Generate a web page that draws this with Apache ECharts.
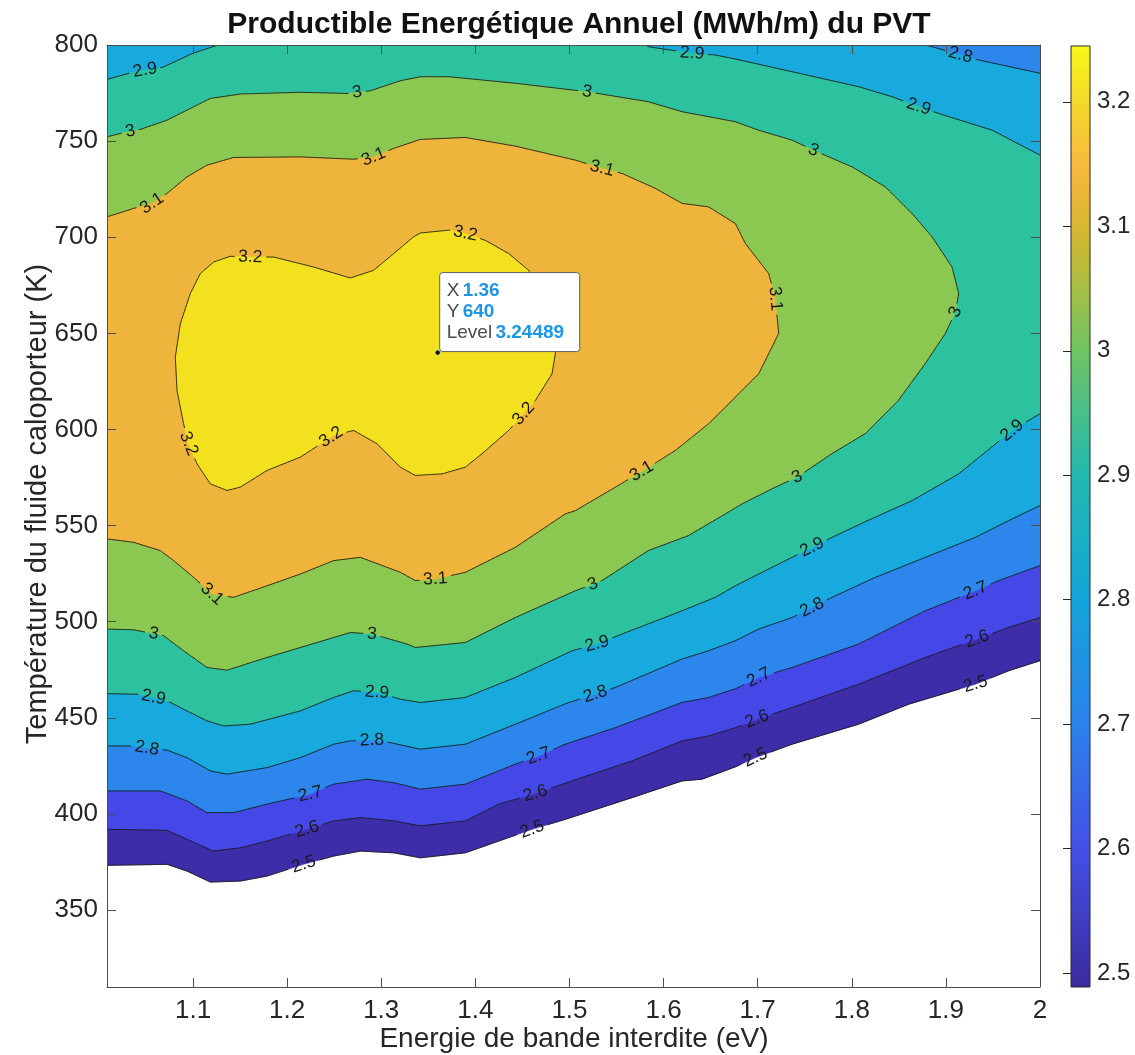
<!DOCTYPE html>
<html><head><meta charset="utf-8">
<script src="https://cdn.jsdelivr.net/npm/echarts@6/dist/echarts.min.js"></script>
<style>html,body{margin:0;padding:0;background:#fff}#c{width:1135px;height:1055px}</style>
</head><body><div id="c"></div>
<script>
// ---------------- data ----------------
const LEVELS = [2.5, 2.6, 2.7, 2.8, 2.9, 3.0, 3.1, 3.2];
const X_RANGE = [1.0086, 2.0];
const Y_RANGE = [310, 800];
const Z_RANGE = [2.4888, 3.24489];
const xTicks = [1.1, 1.2, 1.3, 1.4, 1.5, 1.6, 1.7, 1.8, 1.9, 2.0];
const yTicks = [350, 400, 450, 500, 550, 600, 650, 700, 750, 800];
const cbTicks = [2.5, 2.6, 2.7, 2.8, 2.9, 3.0, 3.1, 3.2];
const TIP_POINT = [1.36, 640];
const TIP_LEVEL = 3.24489;

// contour lines: each level -> list of polylines [x (eV), y (K)]
const contour_2_5 = [
 [[1.0086,373.3],[1.0724,373.8],[1.0936,370.3],[1.1184,364.6],[1.1503,365.1],[1.1786,367.7],[1.2175,373.8],[1.2494,378.1],[1.2778,380.7],[1.3132,379.8],[1.3416,377.2],[1.3894,379.8],[1.4248,385.9],[1.4603,392.0],[1.4956,397.2],[1.5665,408.5],[1.6197,417.2],[1.6409,418.1],[1.6763,424.5],[1.6976,429.3],[1.7366,436.3],[1.8073,446.7],[1.8605,457.1],[1.9314,467.5],[1.9667,474.5],[2.0,479.7]]
];
const contour_2_6 = [
 [[1.0086,392.0],[1.0724,391.5],[1.0936,386.8],[1.1219,380.7],[1.1503,382.4],[1.1786,385.9],[1.2211,392.0],[1.2494,396.4],[1.2778,398.1],[1.3132,396.4],[1.3416,393.8],[1.3894,396.4],[1.4248,405.1],[1.4638,410.6],[1.5134,419.0],[1.5665,427.6],[1.6197,438.0],[1.6479,440.6],[1.6763,444.9],[1.6994,449.3],[1.7366,455.4],[1.8073,467.5],[1.8782,481.4],[1.9332,491.0],[1.9667,497.0],[2.0,502.2]]
];
const contour_2_7 = [
 [[1.0086,412.0],[1.0653,412.0],[1.0936,406.8],[1.1149,400.7],[1.1431,400.7],[1.1786,405.1],[1.2247,410.3],[1.2494,415.5],[1.2849,418.1],[1.3132,416.3],[1.3416,412.9],[1.3894,415.5],[1.4425,425.9],[1.4673,430.2],[1.4956,436.3],[1.5488,444.9],[1.6197,458.0],[1.6479,460.6],[1.6763,465.1],[1.7011,471.0],[1.7366,476.2],[1.8073,488.4],[1.8782,505.7],[1.9314,516.1],[1.9561,521.4],[2.0,529.2]]
];
const contour_2_8 = [
 [[1.0086,435.4],[1.0369,435.4],[1.0511,434.2],[1.0724,433.2],[1.0936,429.3],[1.1184,422.4],[1.1361,420.7],[1.1786,424.1],[1.2140,429.3],[1.2494,436.3],[1.2672,438.0],[1.2902,438.4],[1.3097,437.1],[1.3416,433.7],[1.3894,436.3],[1.4425,446.7],[1.4992,458.0],[1.5275,462.3],[1.5488,465.8],[1.6197,480.6],[1.6479,484.9],[1.6763,490.1],[1.7011,496.2],[1.7366,502.2],[1.7578,507.4],[1.7791,512.7],[1.8251,523.1],[1.8782,533.5],[1.9314,543.9],[1.9667,552.6],[2.0,560.4]],
 [[2.0,785.3],[1.9349,792.2],[1.9154,794.8],[1.8853,799.1],[1.8782,800]]
];
const contour_2_9 = [
 [[1.0086,462.6],[1.0405,462.3],[1.0581,460.6],[1.0759,458.0],[1.0936,453.6],[1.1149,448.4],[1.1325,445.8],[1.1609,446.7],[1.2140,453.6],[1.2494,460.6],[1.2707,464.1],[1.2955,463.2],[1.3203,459.7],[1.3416,458.0],[1.3894,460.6],[1.4425,471.0],[1.5028,484.9],[1.5293,488.4],[1.5559,493.6],[1.6197,505.7],[1.6550,512.7],[1.6763,518.7],[1.7011,524.8],[1.7578,538.7],[1.7791,543.9],[1.8145,552.1],[1.8641,563.0],[1.9136,576.9],[1.9703,599.5],[2.0,608.2]],
 [[2.0,742.7],[1.9491,755.7],[1.8923,764.4],[1.8711,767.9],[1.8428,773.1],[1.8073,778.3],[1.7366,786.1],[1.6763,792.7],[1.6550,794.8],[1.6303,795.7],[1.5840,799.1],[1.5807,800]],
 [[1.1270,800],[1.1237,799.5],[1.1003,795.8],[1.0684,788.5],[1.0366,785.9],[1.0086,782.1]]
];
const contour_3_0 = [
 [[1.0086,496.2],[1.0369,495.8],[1.0688,492.7],[1.0900,484.9],[1.1149,476.2],[1.1361,474.8],[1.1786,481.4],[1.2318,489.2],[1.2672,494.4],[1.2902,493.6],[1.3274,488.4],[1.3362,486.6],[1.3894,489.2],[1.4425,502.2],[1.5063,516.1],[1.5346,521.4],[1.5838,537.0],[1.6264,544.8],[1.6657,556.1],[1.6834,561.3],[1.7188,570.0],[1.7419,575.2],[1.7791,587.5],[1.8145,597.9],[1.8495,615.1],[1.8782,634.4],[1.8995,650.0],[1.9101,661.1],[1.9136,670.7],[1.9066,684.5],[1.8853,700.2],[1.8641,712.3],[1.8357,726.2],[1.8003,736.6],[1.7592,745.3],[1.7366,750.5],[1.7008,755.7],[1.6763,760.1],[1.6197,765.3],[1.5838,770.5],[1.5187,775.7],[1.4425,780.1],[1.3716,783.5],[1.3416,783.5],[1.3203,781.4],[1.2884,776.2],[1.2637,774.8],[1.2140,775.4],[1.1503,774.5],[1.1184,772.2],[1.0936,766.1],[1.0724,760.9],[1.0440,756.1],[1.0227,754.0],[1.0086,752.2]]
];
const contour_3_1 = [
 [[1.0086,543.1],[1.0369,541.3],[1.0653,537.0],[1.0794,531.8],[1.1006,523.1],[1.1202,514.4],[1.1431,512.7],[1.1786,518.7],[1.2140,524.8],[1.2494,531.8],[1.2778,533.5],[1.3203,525.7],[1.3362,521.4],[1.3575,522.2],[1.3894,525.7],[1.4425,538.7],[1.4956,556.1],[1.5063,557.8],[1.5488,570.0],[1.5842,580.4],[1.6125,589.1],[1.6479,603.0],[1.6657,611.6],[1.6798,618.6],[1.7011,629.0],[1.7223,649.9],[1.7188,668.0],[1.7117,681.1],[1.6870,696.7],[1.6763,707.1],[1.6479,715.8],[1.6197,717.6],[1.5913,725.4],[1.5559,733.2],[1.5346,735.8],[1.5063,740.1],[1.4425,747.4],[1.3894,751.9],[1.3416,750.9],[1.3132,746.2],[1.2919,741.8],[1.2707,740.6],[1.2140,741.8],[1.1431,741.5],[1.1149,737.5],[1.0936,731.4],[1.0724,722.8],[1.0564,717.6],[1.0369,715.0],[1.0086,710.6]]
];
const contour_3_2 = [
 [[1.1078,681.1],[1.1219,687.1],[1.1396,690.1],[1.1609,689.7],[1.1857,689.7],[1.2282,684.5],[1.2672,678.8],[1.2919,682.8],[1.3132,691.5],[1.3344,700.2],[1.3416,702.2],[1.3716,703.7],[1.3894,701.9],[1.4106,698.4],[1.4354,691.5],[1.4567,682.8],[1.4691,672.4],[1.4797,659.4],[1.4850,646.4],[1.4850,639.4],[1.4815,629.0],[1.4638,615.1],[1.4513,608.2],[1.4354,599.5],[1.4071,587.4],[1.3894,580.4],[1.3646,576.9],[1.3362,576.1],[1.3203,580.4],[1.2955,592.6],[1.2707,599.5],[1.2494,596.9],[1.2140,585.6],[1.1786,578.7],[1.1503,570.0],[1.1361,568.3],[1.1184,571.7],[1.1043,582.1],[1.0953,592.6],[1.0900,603.0],[1.0830,620.3],[1.0812,637.7],[1.0865,655.0],[1.0971,670.7],[1.1078,681.1]]
];
const CONTOURS = [contour_2_5, contour_2_6, contour_2_7, contour_2_8, contour_2_9, contour_3_0, contour_3_1, contour_3_2];

// inline label positions [x, y] per level
const labels_2_5 = [[1.2175,373.8],[1.4603,392.0],[1.6976,429.3],[1.9314,467.5]];
const labels_2_6 = [[1.2211,392.0],[1.4638,410.6],[1.6994,449.3],[1.9332,491.0]];
const labels_2_7 = [[1.2247,410.3],[1.4673,430.2],[1.7011,471.0],[1.9314,516.1]];
const labels_2_8 = [[1.9154,794.8],[1.0511,434.2],[1.2902,438.4],[1.5275,462.3],[1.7578,507.4]];
const labels_2_9 = [[1.0493,785.9],[1.6303,795.7],[1.8711,767.9],[1.0581,460.6],[1.2955,463.2],[1.5293,488.4],[1.7578,538.7],[1.9703,599.5]];
const labels_3_0 = [[1.0334,754.8],[1.2743,774.8],[1.5187,775.7],[1.7592,745.3],[1.9101,661.1],[1.7419,575.2],[1.5254,518.7],[1.2902,493.6],[1.0581,493.6]];
const labels_3_1 = [[1.0564,717.6],[1.2919,741.8],[1.5346,735.8],[1.7188,668.0],[1.5771,577.8],[1.3575,522.2],[1.1202,514.4]];
const labels_3_2 = [[1.1609,689.7],[1.3894,701.9],[1.4513,608.2],[1.2491,594.3],[1.0953,592.6]];
const LABELS = [labels_2_5, labels_2_6, labels_2_7, labels_2_8, labels_2_9, labels_3_0, labels_3_1, labels_3_2];

// ---------------- styles ----------------
const BAND_COLORS = ['#3e2da9', '#4548e6', '#2c86ec', '#18a9dd', '#2cc2a0', '#8bc852', '#efb43b', '#f3e01f'];
const CB_STOPS = [
  [0.00, '#3b2a9e'], [0.147, '#4450e6'], [0.279, '#2b82ec'], [0.411, '#14a4da'],
  [0.544, '#22b9b0'], [0.676, '#6ec462'], [0.76, '#b6bd3c'], [0.808, '#d9b632'],
  [0.87, '#f8b83e'], [0.94, '#f4d82a'], [1.0, '#f8f81a']
];
const FONT = 'Liberation Sans';
const TXT = '#262626';
const AX = '#4d4d4d';

// ---------------- helpers ----------------
function perim(p) {
  const [x, y] = p, [X0, X1] = X_RANGE, [Y0, Y1] = Y_RANGE;
  const d = [(y - Y0) / (Y1 - Y0), (X1 - x) / (X1 - X0), (Y1 - y) / (Y1 - Y0), (x - X0) / (X1 - X0)];
  let e = 0; for (let i = 1; i < 4; i++) if (d[i] < d[e]) e = i;
  if (e === 0) return (x - X0) / (X1 - X0);
  if (e === 1) return 1 + (y - Y0) / (Y1 - Y0);
  if (e === 2) return 2 + (X1 - x) / (X1 - X0);
  return 3 + (Y1 - y) / (Y1 - Y0);
}
function onBoundary(p) {
  const [x, y] = p, [X0, X1] = X_RANGE, [Y0, Y1] = Y_RANGE;
  return Math.min((y - Y0) / (Y1 - Y0), (X1 - x) / (X1 - X0), (Y1 - y) / (Y1 - Y0), (x - X0) / (X1 - X0)) < 0.003;
}
function corner(c) {
  const [X0, X1] = X_RANGE, [Y0, Y1] = Y_RANGE;
  return [[X0, Y0], [X1, Y0], [X1, Y1], [X0, Y1]][((c % 4) + 4) % 4];
}
function buildRings(segs) {
  const rings = [];
  const open = [];
  segs.forEach(s => { if (!onBoundary(s[0])) rings.push(s.slice()); else open.push(s); });
  const used = new Set();
  for (let i = 0; i < open.length; i++) {
    if (used.has(i)) continue;
    const ring = []; let cur = i; let guard = 0;
    while (guard++ < 20) {
      used.add(cur);
      ring.push(...open[cur]);
      const tEnd = perim(open[cur][open[cur].length - 1]);
      let best = -1, bd = Infinity;
      open.forEach((s, j) => {
        if (used.has(j) && j !== i) return;
        const d = ((perim(s[0]) - tEnd) % 4 + 4) % 4;
        if (d < bd) { bd = d; best = j; }
      });
      for (let c = Math.floor(tEnd) + 1; c < tEnd + bd; c++) ring.push(corner(c));
      if (best === i) break;
      cur = best;
    }
    rings.push(ring);
  }
  return rings;
}
function fmtLevel(L) { return String(Math.round(L * 10) / 10); }

function renderContours(params, api) {
  const children = [];
  const toPx = p => api.coord(p);
  // filled bands, lowest first
  LEVELS.forEach((L, i) => {
    buildRings(CONTOURS[i]).forEach(r => {
      children.push({ type: 'polygon', silent: true, shape: { points: r.map(toPx) },
        style: { fill: BAND_COLORS[i], stroke: BAND_COLORS[i], lineWidth: 0.6 } });
    });
  });
  // lines with label gaps + labels
  const fs = 17.5;
  LEVELS.forEach((L, i) => {
    const txt = fmtLevel(L);
    const w = txt.split('').reduce((a, ch) => a + (ch === '.' ? 0.278 : 0.556), 0) * fs;
    const pxSegs = CONTOURS[i].map(s => s.map(toPx));
    const labs = LABELS[i].map(p => {
      const c = toPx(p);
      let best = null, bd = Infinity;
      pxSegs.forEach(ps => {
        for (let k = 0; k < ps.length - 1; k++) {
          const a = ps[k], b = ps[k + 1];
          const dx = b[0] - a[0], dy = b[1] - a[1];
          const len2 = dx * dx + dy * dy || 1;
          let t = ((c[0] - a[0]) * dx + (c[1] - a[1]) * dy) / len2;
          t = Math.max(0, Math.min(1, t));
          const q = [a[0] + t * dx, a[1] + t * dy];
          const d = Math.hypot(q[0] - c[0], q[1] - c[1]);
          if (d < bd) { bd = d; best = { x: q[0], y: q[1], dx, dy }; }
        }
      });
      let ang = Math.atan2(-best.dy, best.dx);
      if (ang >= Math.PI / 2) ang -= Math.PI;
      if (ang < -Math.PI / 2) ang += Math.PI;
      return { x: best.x, y: best.y, ang, r: w / 2 + 3 };
    });
    pxSegs.forEach(ps => {
      let cur = [];
      const flush = () => { if (cur.length > 1) children.push({ type: 'polyline', silent: true, shape: { points: cur }, style: { stroke: '#141414', lineWidth: 0.9, fill: null } }); cur = []; };
      for (let k = 0; k < ps.length - 1; k++) {
        const a = ps[k], b = ps[k + 1];
        const n = Math.max(1, Math.ceil(Math.hypot(b[0] - a[0], b[1] - a[1]) / 1.5));
        for (let s = 0; s <= n; s++) {
          if (s === n && k < ps.length - 2) continue;
          const q = [a[0] + (b[0] - a[0]) * s / n, a[1] + (b[1] - a[1]) * s / n];
          const gap = labs.some(l => Math.hypot(q[0] - l.x, q[1] - l.y) < l.r);
          if (gap) flush(); else cur.push(q);
        }
      }
      flush();
    });
    labs.forEach(l => children.push({ type: 'text', silent: true, x: l.x, y: l.y, rotation: l.ang,
      style: { text: txt, fill: '#1a1a1a', fontSize: fs, fontFamily: FONT, align: 'center', verticalAlign: 'middle' } }));
  });
  // data tip
  const pt = toPx(TIP_POINT);
  const bx = pt[0] + 2, by = pt[1] - 80;
  children.push({ type: 'rect', silent: true, shape: { x: bx, y: by, width: 140, height: 79, r: 3 },
    style: { fill: '#ffffff', stroke: '#5e5e5e', lineWidth: 1 } });
  children.push({ type: 'circle', silent: true, shape: { cx: pt[0], cy: pt[1], r: 2.6 }, style: { fill: '#111', stroke: '#fff', lineWidth: 0.6 } });
  const rich = {
    n: { fill: '#4a4a4a', fontSize: 19, fontFamily: FONT },
    v: { fill: '#1e96e6', fontSize: 19, fontFamily: FONT, fontWeight: 'bold' }
  };
  [['X', String(TIP_POINT[0])], ['Y', String(TIP_POINT[1])], ['Level', String(TIP_LEVEL)]].forEach((row, k) => {
    children.push({ type: 'text', silent: true, x: bx + 7, y: by + 18 + k * 21,
      style: { text: '{n|' + row[0] + '} {v|' + row[1] + '}', rich, align: 'left', verticalAlign: 'middle' } });
  });
  return { type: 'group', children };
}

function renderColorbar(params, api) {
  const p0 = api.coord([0, Z_RANGE[0]]), p1 = api.coord([1, Z_RANGE[1]]);
  return { type: 'rect', silent: true,
    shape: { x: p0[0], y: p1[1], width: p1[0] - p0[0], height: p0[1] - p1[1] },
    style: { fill: new echarts.graphic.LinearGradient(0, 1, 0, 0, CB_STOPS.map(s => ({ offset: s[0], color: s[1] }))),
      stroke: '#2a2a2a', lineWidth: 1 } };
}

const chart = echarts.init(document.getElementById('c'), null, { renderer: 'canvas' });
const tickStyle = { show: true, inside: true, length: 9, lineStyle: { color: AX, width: 1 } };
const lineStyle = { show: true, lineStyle: { color: AX, width: 1 } };
chart.setOption({
  animation: false,
  backgroundColor: '#fff',
  title: { text: 'Productible Energétique Annuel (MWh/m) du PVT', left: 574, top: 5, textAlign: 'center',
    textStyle: { fontFamily: FONT, fontSize: 30, fontWeight: 'bold', color: '#111' } },
  graphic: [
    { type: 'text', x: 38, y: 504, rotation: Math.PI / 2, silent: true,
      style: { text: 'Température du fluide caloporteur (K)', fontFamily: FONT, fontSize: 29, fill: TXT,
        align: 'center', verticalAlign: 'middle' } },
    { type: 'text', x: 574, y: 1039, silent: true,
      style: { text: 'Energie de bande interdite (eV)', fontFamily: FONT, fontSize: 28, fill: TXT,
        align: 'center', verticalAlign: 'middle' } }
  ],
  grid: [
    { left: 107, right: 95, top: 45, bottom: 68, outerBoundsMode: 'none', containLabel: false },
    { left: 1071, width: 19, top: 46, height: 941, outerBoundsMode: 'none', containLabel: false }
  ],
  xAxis: [
    { type: 'value', gridIndex: 0, min: X_RANGE[0], max: X_RANGE[1], position: 'bottom', z: 10,
      axisLine: lineStyle, axisTick: Object.assign({ customValues: xTicks }, tickStyle),
      axisLabel: { customValues: xTicks, fontFamily: FONT, fontSize: 26, color: TXT, margin: 11, formatter: v => String(+v.toFixed(1)) },
      splitLine: { show: false } },
    { type: 'value', gridIndex: 0, min: X_RANGE[0], max: X_RANGE[1], position: 'top', z: 10,
      axisLine: lineStyle, axisTick: Object.assign({ customValues: xTicks }, tickStyle),
      axisLabel: { show: false }, splitLine: { show: false } },
    { type: 'value', gridIndex: 1, min: 0, max: 1, show: false }
  ],
  yAxis: [
    { type: 'value', gridIndex: 0, min: Y_RANGE[0], max: Y_RANGE[1], position: 'left', z: 10,
      axisLine: lineStyle, axisTick: Object.assign({ customValues: yTicks }, tickStyle),
      axisLabel: { customValues: yTicks, fontFamily: FONT, fontSize: 26, color: TXT, margin: 9 },
      splitLine: { show: false } },
    { type: 'value', gridIndex: 0, min: Y_RANGE[0], max: Y_RANGE[1], position: 'right', z: 10,
      axisLine: lineStyle, axisTick: Object.assign({ customValues: yTicks }, tickStyle),
      axisLabel: { show: false }, splitLine: { show: false } },
    { type: 'value', gridIndex: 1, min: Z_RANGE[0], max: Z_RANGE[1], position: 'right', z: 10,
      axisLine: { show: false },
      axisTick: { show: true, inside: true, length: 8, customValues: cbTicks, lineStyle: { color: '#262626', width: 1 } },
      axisLabel: { customValues: cbTicks, fontFamily: FONT, fontSize: 24, color: TXT, margin: 7, formatter: v => String(+v.toFixed(1)) },
      splitLine: { show: false } }
  ],
  series: [
    { type: 'custom', coordinateSystem: 'cartesian2d', xAxisIndex: 0, yAxisIndex: 0, clip: true, silent: true,
      renderItem: renderContours, data: [[X_RANGE[0], Y_RANGE[0]]] },
    { type: 'custom', coordinateSystem: 'cartesian2d', xAxisIndex: 2, yAxisIndex: 2, silent: true,
      renderItem: renderColorbar, data: [[0, Z_RANGE[0]]] }
  ]
});
</script>
</body></html>
